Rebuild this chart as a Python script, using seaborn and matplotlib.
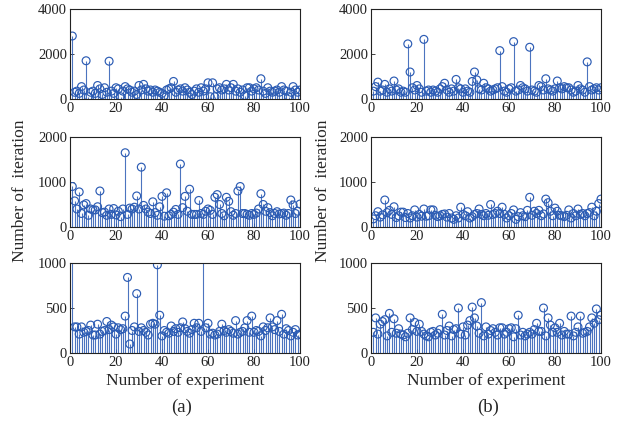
import numpy as np
import pandas as pd
import matplotlib
matplotlib.use("Agg")
import matplotlib.pyplot as plt
import seaborn as sns

# x positions (experiment number)
experiments = list(range(1, 101))

# column (a)
a_top = [2800, 300, 350, 250, 550, 400, 1700, 100, 300, 350,
         250, 600, 450, 200, 500, 300, 1680, 350, 250, 500,
         450, 100, 350, 550, 450, 400, 300, 350, 200, 600,
         400, 650, 450, 350, 400, 300, 400, 350, 300, 250,
         150, 400, 450, 500, 780, 300, 400, 450, 350, 500,
         400, 300, 200, 350, 450, 300, 500, 350, 450, 720,
         100, 720, 100, 450, 500, 400, 450, 650, 400, 500,
         650, 350, 450, 300, 400, 150, 500, 500, 350, 450,
         500, 400, 900, 350, 250, 500, 350, 300, 350, 400,
         300, 550, 400, 350, 100, 300, 550, 400, 300, 400]
a_mid = [900, 580, 400, 780, 300, 490, 520, 260, 400, 380,
         380, 450, 800, 320, 330, 260, 400, 280, 410, 270,
         350, 230, 400, 1650, 280, 420, 400, 440, 690, 400,
         1330, 480, 400, 330, 300, 560, 320, 260, 450, 680,
         240, 760, 250, 280, 330, 390, 280, 1400, 430, 680,
         350, 840, 280, 280, 280, 590, 300, 280, 350, 400,
         370, 280, 660, 720, 500, 300, 250, 660, 570, 340,
         260, 300, 800, 900, 300, 300, 280, 260, 300, 280,
         310, 400, 740, 500, 350, 430, 320, 250, 300, 340,
         290, 300, 310, 260, 300, 600, 490, 300, 350, 510]
a_bot = [2500, 290, 290, 210, 290, 230, 240, 250, 310, 200,
         200, 320, 210, 240, 250, 350, 260, 310, 290, 210,
         280, 260, 270, 410, 840, 100, 250, 290, 660, 240,
         280, 250, 230, 200, 320, 330, 320, 980, 420, 190,
         250, 230, 220, 300, 240, 270, 230, 280, 345, 270,
         240, 220, 260, 330, 280, 330, 240, 1800, 280, 330,
         210, 220, 200, 210, 240, 320, 250, 230, 260, 240,
         220, 360, 210, 230, 240, 280, 360, 230, 410, 230,
         250, 240, 190, 290, 250, 280, 390, 290, 260, 360,
         240, 430, 210, 270, 250, 190, 230, 260, 200, 210]

# column (b)
b_top = [350, 550, 750, 350, 400, 650, 300, 450, 350, 800,
         400, 450, 300, 350, 300, 2450, 1200, 500, 400, 600,
         450, 300, 2650, 350, 400, 300, 400, 350, 300, 450,
         550, 700, 400, 300, 450, 350, 870, 500, 450, 300,
         450, 350, 300, 780, 1200, 850, 450, 400, 700, 500,
         450, 350, 400, 450, 500, 2150, 550, 350, 300, 450,
         500, 2550, 350, 400, 600, 500, 450, 350, 2300, 400,
         350, 300, 600, 550, 400, 900, 450, 400, 350, 450,
         800, 500, 450, 550, 500, 500, 400, 300, 350, 600,
         450, 400, 300, 1650, 550, 400, 450, 500, 400, 500]
b_mid = [180, 250, 340, 220, 270, 600, 320, 370, 280, 450,
         210, 250, 330, 330, 210, 300, 200, 250, 380, 220,
         280, 240, 400, 240, 250, 380, 380, 260, 230, 250,
         280, 290, 220, 300, 200, 170, 250, 200, 440, 280,
         250, 340, 200, 230, 280, 300, 400, 280, 250, 300,
         260, 500, 280, 300, 350, 300, 440, 280, 200, 250,
         300, 380, 170, 230, 320, 250, 230, 370, 660, 260,
         350, 300, 370, 250, 290, 620, 540, 350, 250, 420,
         350, 260, 250, 230, 260, 380, 200, 300, 250, 400,
         280, 300, 250, 300, 320, 440, 250, 350, 520, 620]
b_bot = [230, 390, 210, 320, 350, 370, 190, 440, 230, 380,
         220, 270, 210, 200, 180, 220, 390, 260, 340, 240,
         320, 240, 210, 190, 180, 230, 240, 200, 220, 260,
         430, 200, 250, 300, 190, 260, 270, 500, 210, 290,
         200, 310, 360, 510, 390, 300, 220, 560, 190, 290,
         210, 250, 270, 230, 200, 280, 280, 210, 230, 270,
         280, 180, 270, 420, 200, 230, 190, 210, 230, 210,
         260, 330, 240, 240, 500, 190, 390, 310, 230, 280,
         230, 330, 200, 240, 210, 210, 410, 190, 230, 290,
         410, 220, 230, 240, 290, 390, 330, 490, 370, 420]

y_limits = [4000, 2000, 1000]
y_ticks = [[0, 2000, 4000], [0, 1000, 2000], [0, 500, 1000]]
x_ticks = [0, 20, 40, 60, 80, 100]

sns.set_style("ticks")
plt.rcParams["font.family"] = ["Liberation Serif", "DejaVu Serif"]

blue = "#2c5cb4"

fig = plt.figure(figsize=(6.29, 4.23), dpi=100)

lefts = [70 / 629, 371 / 629]
width = 230 / 629
bottoms = [1 - 99 / 423, 1 - 227 / 423, 1 - 353 / 423]
height = 90 / 423

columns = [[a_top, a_mid, a_bot], [b_top, b_mid, b_bot]]

for c, col in enumerate(columns):
    for r, vals in enumerate(col):
        ax = fig.add_axes([lefts[c], bottoms[r], width, height])
        df = pd.DataFrame({"exp": experiments, "iter": vals})
        # stems from zero, then open circles on top
        ax.vlines(df["exp"], 0, df["iter"], color=blue, linewidth=0.8, alpha=0.85)
        sns.scatterplot(data=df, x="exp", y="iter", ax=ax, marker="o",
                        s=32, facecolor="none", edgecolor=blue, linewidth=0.85,
                        legend=False)
        ax.set_xlim(0, 100)
        ax.set_ylim(0, y_limits[r])
        ax.set_xticks(x_ticks)
        ax.set_yticks(y_ticks[r])
        ax.tick_params(direction="in", length=3, width=0.6, labelsize=10.5,
                       pad=2, colors="#222222")
        for s in ax.spines.values():
            s.set_linewidth(0.8)
            s.set_color("#222222")
        ax.set_ylabel("")
        if r == 2:
            ax.set_xlabel("Number of experiment", fontsize=12.5, labelpad=3)
        else:
            ax.set_xlabel("")

fig.text(0.032, 0.55, "Number of  iteration", rotation=90, fontsize=12.5,
         ha="center", va="center")
fig.text(0.513, 0.55, "Number of  iteration", rotation=90, fontsize=12.5,
         ha="center", va="center")
fig.text(0.288, 0.038, "(a)", fontsize=13.5, ha="center", va="center")
fig.text(0.776, 0.038, "(b)", fontsize=13.5, ha="center", va="center")

fig.savefig("out.png", dpi=100)
